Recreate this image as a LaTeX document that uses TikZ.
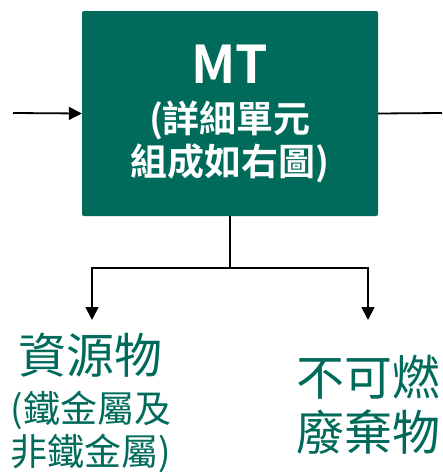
\documentclass[tikz,border=0pt]{standalone}
\usepackage{fontspec}
\setmainfont{Noto Sans CJK TC}[BoldFont={Noto Sans CJK TC Bold}]
\usetikzlibrary{arrows.meta}
\definecolor{teal1}{HTML}{006B5A}
\newcommand{\fsz}[2]{\fontsize{#1}{#2}\selectfont}
\begin{document}
\begin{tikzpicture}[x=1pt,y=-1pt,
  conn/.style={line width=1.8pt},
  tip/.style={-{Triangle[length=13pt,width=13pt]}},
  box/.style={fill=teal1, rounded corners=2pt, minimum width=296pt, minimum height=205pt, inner sep=0pt, text=white, align=center, font=\bfseries\fsz{37}{43}}]
\useasboundingbox (0,0) rectangle (442,474);
\node[box] (mt) at (230,113.5) {{\fsz{52}{50}MT}\\[6pt](詳細單元\\組成如右圖)};
\coordinate (in) at (13,113);
\coordinate (out) at (442,113);
\coordinate (ra) at (92,320);
\coordinate (wa) at (368,320);
\draw[conn,tip] (in) -- (mt.west);
\draw[conn] (mt.east) -- (out);
\draw[conn,tip] (mt.south) -- ++(0,52) -| (ra);
\draw[conn,tip] (mt.south) -- ++(0,52) -| (wa);
\node[text=teal1, align=center, font=\fsz{37}{43}] (res) at (91,403) {{\fsz{48}{50}資源物}\\[6pt](鐵金屬及\\非鐵金屬)};
\node[text=teal1, align=center, font=\fsz{48}{55}] (waste) at (368,405) {不可燃\\廢棄物};
\end{tikzpicture}
\end{document}
